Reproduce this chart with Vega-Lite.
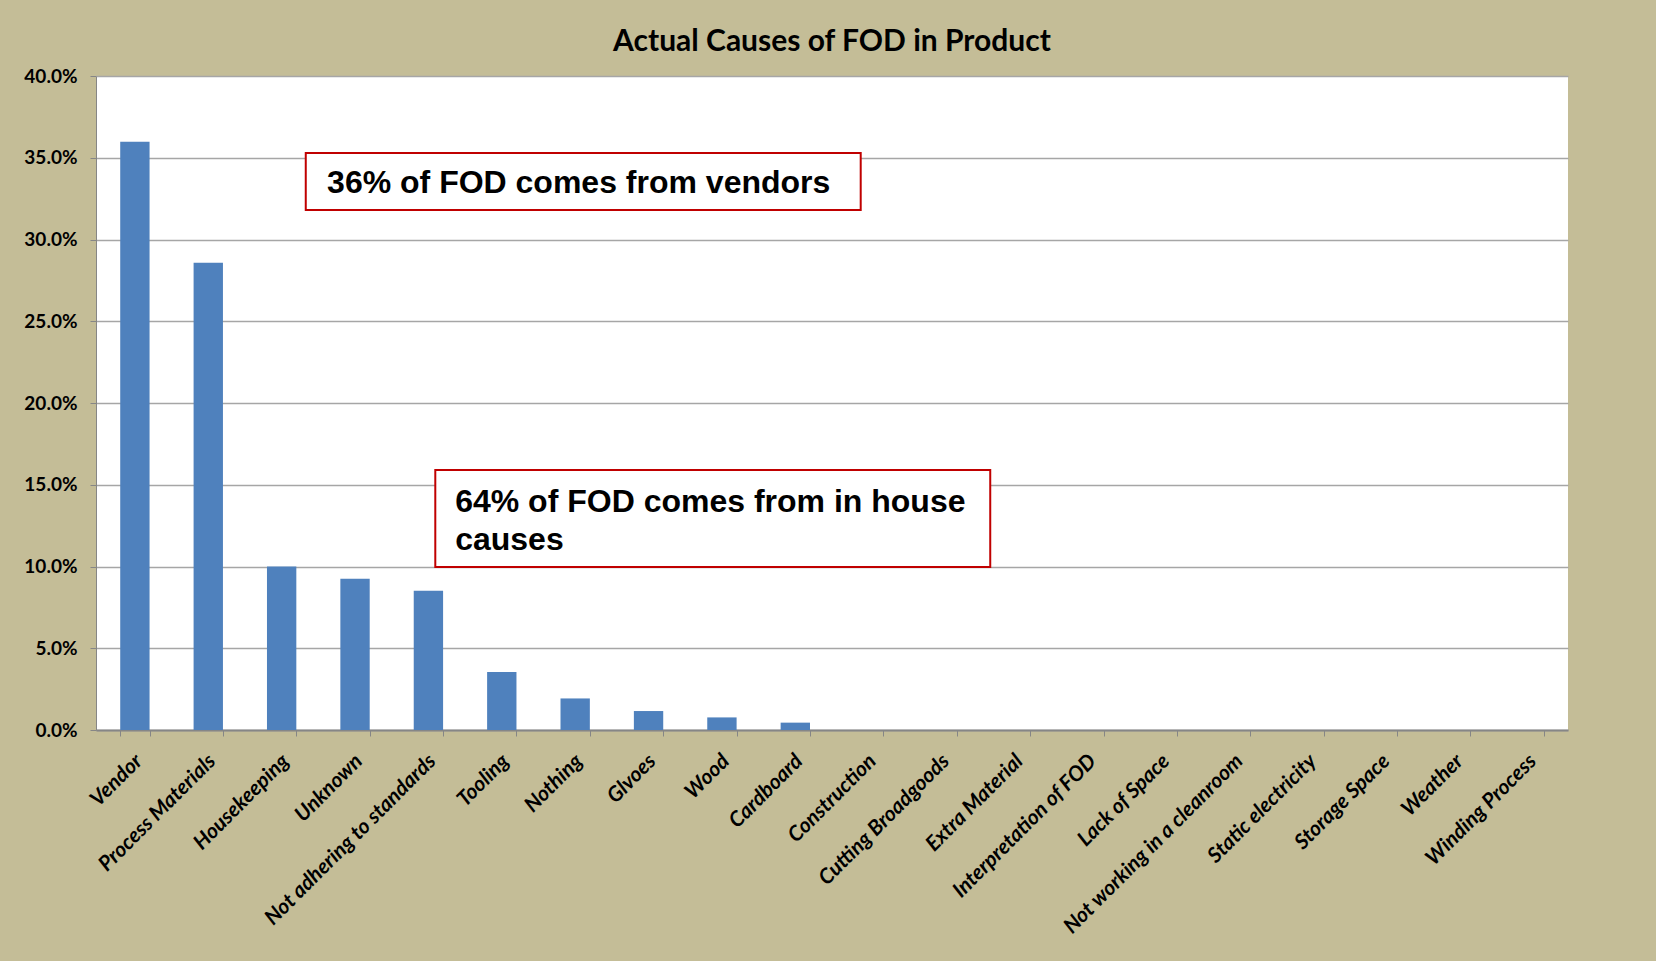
{
  "$schema": "https://vega.github.io/schema/vega-lite/v6.json",
  "autosize": {"type": "none"},
  "padding": {"left": 96, "top": 76, "right": 88, "bottom": 231},
  "width": 1472,
  "height": 654,
  "background": "#C4BD97",
  "config": {"view": {"fill": "white", "stroke": null}},
  "title": {"text": "Actual Causes of FOD in Product", "font": "Lato", "fontSize": 30, "fontWeight": "bold", "color": "black", "anchor": "middle", "offset": 10},
  "layer": [
    {
      "data": {"values": [
        {"cause": "Vendor", "share": 0.3598},
        {"cause": "Process Materials", "share": 0.2858},
        {"cause": "Housekeeping", "share": 0.1000},
        {"cause": "Unknown", "share": 0.0925},
        {"cause": "Not adhering to standards", "share": 0.0851},
        {"cause": "Tooling", "share": 0.0354},
        {"cause": "Nothing", "share": 0.0193},
        {"cause": "Glvoes", "share": 0.0116},
        {"cause": "Wood", "share": 0.0077},
        {"cause": "Cardboard", "share": 0.0045},
        {"cause": "Construction", "share": 0},
        {"cause": "Cutting Broadgoods", "share": 0},
        {"cause": "Extra Material", "share": 0},
        {"cause": "Interpretation of FOD", "share": 0},
        {"cause": "Lack of Space", "share": 0},
        {"cause": "Not working in a cleanroom", "share": 0},
        {"cause": "Static electricity", "share": 0},
        {"cause": "Storage Space", "share": 0},
        {"cause": "Weather", "share": 0},
        {"cause": "Winding Process", "share": 0}
      ]},
      "mark": {"type": "bar", "color": "#4F81BD"},
      "encoding": {
        "x": {
          "field": "cause", "type": "nominal", "sort": null,
          "scale": {"paddingInner": 0.6, "paddingOuter": 0.33},
          "axis": {
            "title": null, "labelAngle": -45, "labelFont": "Lato", "labelFontSize": 21,
            "labelFontWeight": "bold", "labelFontStyle": "italic", "labelColor": "black",
            "labelPadding": 14, "labelOffset": -4, "labelLimit": 0, "tickBand": "extent", "ticks": true, "tickSize": 6,
            "tickColor": "#868686", "domainColor": "#868686", "domainWidth": 2, "grid": false,
            "labelOverlap": false
          }
        },
        "y": {
          "field": "share", "type": "quantitative",
          "scale": {"domain": [0, 0.4]},
          "axis": {
            "title": null, "format": ".1%",
            "values": [0, 0.05, 0.1, 0.15, 0.2, 0.25, 0.3, 0.35, 0.4],
            "labelFont": "Lato", "labelFontSize": 19, "labelFontWeight": "bold", "labelColor": "black",
            "tickSize": 6, "tickColor": "#868686", "domainColor": "#868686",
            "gridColor": "#A6A6A6", "gridWidth": 1.3, "labelPadding": 13, "grid": true
          }
        }
      }
    },
    {
      "data": {"values": [{}]},
      "mark": {"type": "rect", "fill": "white", "stroke": "#C00000", "strokeWidth": 2},
      "encoding": {
        "x": {"datum": 2.85, "type": "quantitative", "scale": {"domain": [0, 20]}, "axis": null},
        "x2": {"datum": 10.39},
        "y": {"datum": 0.3529, "type": "quantitative"},
        "y2": {"datum": 0.318}
      }
    },
    {
      "data": {"values": [{}]},
      "mark": {"type": "rect", "fill": "white", "stroke": "#C00000", "strokeWidth": 2},
      "encoding": {
        "x": {"datum": 4.61, "type": "quantitative", "scale": {"domain": [0, 20]}, "axis": null},
        "x2": {"datum": 12.15},
        "y": {"datum": 0.159, "type": "quantitative"},
        "y2": {"datum": 0.0997}
      }
    },
    {
      "data": {"values": [{}]},
      "mark": {"type": "text", "text": "36% of FOD comes from vendors", "font": "Liberation Sans", "fontSize": 32, "fontWeight": "bold", "color": "black", "align": "left", "baseline": "middle"},
      "encoding": {
        "x": {"datum": 3.14, "type": "quantitative", "scale": {"domain": [0, 20]}, "axis": null},
        "y": {"datum": 0.3346, "type": "quantitative"}
      }
    },
    {
      "data": {"values": [{}]},
      "mark": {"type": "text", "text": ["64% of FOD comes from in house", "causes"], "lineHeight": 38, "font": "Liberation Sans", "fontSize": 32, "fontWeight": "bold", "color": "black", "align": "left", "baseline": "middle"},
      "encoding": {
        "x": {"datum": 4.88, "type": "quantitative", "scale": {"domain": [0, 20]}, "axis": null},
        "y": {"datum": 0.1394, "type": "quantitative"}
      }
    }
  ],
  "resolve": {"scale": {"x": "independent"}}
}
